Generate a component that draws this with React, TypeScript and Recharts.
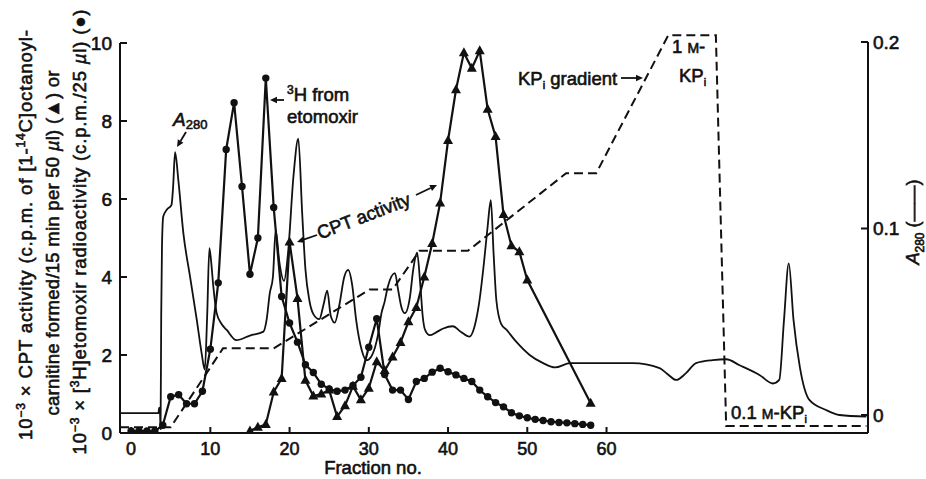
import React from 'react';
import { ComposedChart, Line, XAxis, YAxis, ReferenceLine } from 'recharts';

// ---------- data ----------
const xTicks = [0, 10, 20, 30, 40, 50, 60];
const leftTicks = [0, 2, 4, 6, 8, 10];
const rightTicks = [0, 0.1, 0.2];

// CPT activity (triangles), 10^-3 x c.p.m.
const cptFractions = [15, 16, 17, 18, 19, 20, 21, 22, 23, 24, 25, 26, 27, 28, 29, 30, 31, 32, 33, 34, 35, 36, 37, 38, 39, 40, 41, 42, 43, 44, 45, 46, 47, 48, 49, 50, 58];
const cptValues = [0.05, 0.15, 0.22, 1.05, 1.4, 4.9, 3.45, 1.35, 0.95, 1.0, 1.1, 0.42, 0.7, 1.2, 0.85, 1.15, 1.83, 1.6, 1.95, 2.32, 2.85, 3.22, 4.0, 4.86, 5.9, 7.5, 8.8, 9.75, 9.35, 9.8, 8.3, 7.6, 5.6, 4.8, 4.65, 3.92, 0.76];

// [3H]etomoxir radioactivity (circles), 10^-3 x c.p.m.
const h3Fractions = [0, 1, 2, 3, 4, 5, 6, 7, 8, 9, 10, 11, 12, 13, 14, 15, 16, 17, 18, 19, 20, 21, 22, 23, 24, 25, 26, 27, 28, 29, 30, 31, 32, 33, 34, 35, 36, 37, 38, 39, 40, 41, 42, 43, 44, 45, 46, 47, 48, 49, 50, 51, 52, 53, 54, 55, 56, 57, 58];
const h3Values = [0.05, 0.05, 0.05, 0.05, 0.2, 0.93, 0.98, 0.75, 0.75, 1.07, 2.15, 3.85, 7.27, 8.47, 6.32, 4.07, 5.0, 9.1, 5.78, 3.5, 2.82, 2.33, 1.75, 1.55, 1.25, 1.13, 1.07, 1.1, 1.22, 1.43, 2.2, 2.93, 1.5, 1.1, 1.1, 0.86, 1.32, 1.4, 1.56, 1.66, 1.57, 1.49, 1.4, 1.32, 1.1, 0.93, 0.78, 0.67, 0.52, 0.44, 0.39, 0.35, 0.32, 0.29, 0.27, 0.26, 0.24, 0.22, 0.2];

// A280 trace (right axis)
const a280Fractions = [-1.4, 3.45, 3.55, 3.65, 3.72, 3.8, 3.9, 4.06, 4.5, 5.1, 5.3, 5.55, 5.96, 6.6, 7.44, 8.29, 8.9, 9.3, 9.6, 9.88, 10.1, 10.38, 10.8, 11.4, 12.07, 13.3, 15.0, 16.7, 17.1, 17.5, 17.9, 18.25, 18.7, 19.3, 19.8, 20.5, 21.1, 21.6, 22.0, 22.5, 23.0, 23.75, 24.3, 24.75, 25.2, 25.7, 26.3, 26.9, 27.4, 27.9, 28.4, 29.1, 29.7, 30.3, 31.2, 31.6, 32.0, 32.4, 33.3, 33.7, 34.1, 34.55, 35.2, 35.6, 36.1, 36.5, 36.8, 37.1, 37.7, 38.5, 39.4, 40.6, 41.6, 42.7, 43.3, 43.9, 44.5, 45.0, 45.4, 45.75, 46.1, 46.7, 47.4, 48.6, 50.3, 52.0, 53.5, 55.4, 58.7, 63.3, 66.7, 67.6, 68.8, 70.0, 71.3, 73.4, 75.1, 76.8, 79.3, 81.0, 81.8, 82.4, 83.0, 83.6, 84.4, 85.6, 87.7, 89.4, 92.8];
const a280Values = [0.001, 0.001, 0.004, 0.001, -0.0076, 0.053, 0.091, 0.1064, 0.11, 0.1127, 0.1221, 0.1409, 0.1261, 0.0974, 0.0742, 0.051, 0.0332, 0.0244, 0.0531, 0.0895, 0.0824, 0.0688, 0.0546, 0.0489, 0.0456, 0.0401, 0.0426, 0.0447, 0.051, 0.0652, 0.074, 0.0991, 0.0824, 0.0719, 0.0865, 0.1284, 0.1482, 0.1075, 0.0782, 0.0614, 0.0541, 0.0514, 0.0594, 0.0667, 0.0531, 0.0495, 0.0594, 0.074, 0.0778, 0.0698, 0.051, 0.0349, 0.0294, 0.0313, 0.0439, 0.0546, 0.0608, 0.0688, 0.0761, 0.0671, 0.0581, 0.0546, 0.0635, 0.0778, 0.087, 0.0698, 0.0531, 0.0456, 0.0428, 0.0443, 0.0464, 0.0476, 0.0447, 0.042, 0.0468, 0.0594, 0.0803, 0.1012, 0.1152, 0.0865, 0.0614, 0.0489, 0.0456, 0.0393, 0.0322, 0.0278, 0.0255, 0.0278, 0.0278, 0.0278, 0.0251, 0.0223, 0.0188, 0.0223, 0.0278, 0.0294, 0.0299, 0.0267, 0.0215, 0.0169, 0.0188, 0.051, 0.0813, 0.051, 0.0257, 0.0081, 0.0027, 0.0, -0.0009];

// KPi gradient trace (dashed), drawn against the left scale
const kpiFractions = [-1.4, 5.0, 11.6, 18.0, 30.1, 33.0, 36.4, 42.5, 54.9, 58.7, 67.8, 73.8, 75.1, 92.8];
const kpiValues = [0.15, 0.15, 2.17, 2.17, 3.68, 3.68, 4.67, 4.67, 6.66, 6.66, 10.2, 10.2, 0.18, 0.18];

const zip = (xs: number[], ys: number[]) => xs.map((f, i) => ({ f, v: ys[i] }));
const cptData = zip(cptFractions, cptValues);
const h3Data = zip(h3Fractions, h3Values);
const a280Data = zip(a280Fractions, a280Values);
const kpiData = zip(kpiFractions, kpiValues);

// ---------- layout ----------
const W = 926;
const H = 479;
const PLOT_LEFT = 120;
const PLOT_RIGHT = 868;
const PLOT_TOP = 33;
const PLOT_BOTTOM = 433;
const X_DOMAIN: [number, number] = [-1.4, 93];
const LEFT_DOMAIN: [number, number] = [0, 10.256];
const RIGHT_DOMAIN: [number, number] = [-0.00965, 0.20483];
const FONT = '"Liberation Sans", Arial, Helvetica, sans-serif';
const INK = '#111';
const TXT = { fontFamily: FONT, fill: INK, stroke: INK, strokeWidth: 0.6 } as const;

const XTick = (props: any) => {
  const { x, payload } = props;
  return (
    <g>
      <line x1={x} x2={x} y1={PLOT_BOTTOM} y2={PLOT_BOTTOM - 6} stroke={INK} strokeWidth={2} />
      <text x={x} y={449} dy="0.35em" textAnchor="middle" fontSize={18} {...TXT}>
        {payload.value}
      </text>
    </g>
  );
};

const LeftTick = (props: any) => {
  const { y, payload } = props;
  return (
    <g>
      <line x1={PLOT_LEFT} x2={PLOT_LEFT + 7} y1={y} y2={y} stroke={INK} strokeWidth={2} />
      <text x={112} y={y} dy="0.35em" textAnchor="end" fontSize={19} {...TXT}>
        {payload.value}
      </text>
    </g>
  );
};

const RightTick = (props: any) => {
  const { y, payload } = props;
  return (
    <g>
      <line x1={PLOT_RIGHT} x2={PLOT_RIGHT - 7} y1={y} y2={y} stroke={INK} strokeWidth={2} />
      <text x={873} y={y} dy="0.35em" textAnchor="start" fontSize={19} {...TXT}>
        {payload.value}
      </text>
    </g>
  );
};

const CircleDot = (props: any) => {
  const { cx, cy, index } = props;
  if (cx == null || cy == null) return <g key={`c${index}`} />;
  return <circle key={`c${index}`} cx={cx} cy={cy} r={3.7} fill={INK} stroke="none" />;
};

const TriangleDot = (props: any) => {
  const { cx, cy, index } = props;
  if (cx == null || cy == null) return <g key={`t${index}`} />;
  const d = `M${cx},${cy - 5.5} L${cx + 5},${cy + 3.5} L${cx - 5},${cy + 3.5} Z`;
  return <path key={`t${index}`} d={d} fill={INK} stroke="none" />;
};

const Arrow = ({ x1, y1, x2, y2 }: { x1: number; y1: number; x2: number; y2: number }) => {
  const ang = Math.atan2(y2 - y1, x2 - x1);
  const L = 7;
  const w = 3.2;
  const bx = x2 - L * Math.cos(ang);
  const by = y2 - L * Math.sin(ang);
  const px = -Math.sin(ang) * w;
  const py = Math.cos(ang) * w;
  return (
    <g>
      <line x1={x1} y1={y1} x2={bx} y2={by} stroke={INK} strokeWidth={1.8} />
      <path d={`M${x2},${y2} L${bx + px},${by + py} L${bx - px},${by - py} Z`} fill={INK} />
    </g>
  );
};

const Sup = ({ children, size = 12 }: { children: React.ReactNode; size?: number }) => (
  <tspan fontSize={size} dy={-7}>{children}</tspan>
);

const Overlay = () => (
  <svg
    width={W}
    height={H}
    style={{ position: 'absolute', left: 0, top: 0, pointerEvents: 'none' }}
  >
    <g {...TXT}>
      {/* left axis title, three lines */}
      <g transform="translate(26,235) rotate(-90)">
        <text x={0} y={0} dy="0.35em" textAnchor="middle" fontSize={18.5} textLength={410} lengthAdjust="spacing">
          10<Sup>−3</Sup><tspan dy={7}> × CPT activity (c.p.m. of [1-</tspan><Sup>14</Sup><tspan dy={7}>C]octanoyl-</tspan>
        </text>
      </g>
      <g transform="translate(53,243) rotate(-90)">
        <text x={0} y={0} dy="0.35em" textAnchor="middle" fontSize={18.5} textLength={345} lengthAdjust="spacing">
          carnitine formed/15 min per 50 <tspan fontStyle="italic">µ</tspan>l) (▲) or
        </text>
      </g>
      <g transform="translate(80,232) rotate(-90)">
        <text x={0} y={0} dy="0.35em" textAnchor="middle" fontSize={18.5} textLength={445} lengthAdjust="spacing">
          10<Sup>−3</Sup><tspan dy={7}> × [</tspan><Sup>3</Sup><tspan dy={7}>H]etomoxir radioactivity (c.p.m./25 </tspan><tspan fontStyle="italic">µ</tspan>l) (●)
        </text>
      </g>

      {/* right axis title */}
      <g transform="translate(913,222) rotate(-90)">
        <text x={0} y={0} dy="0.35em" textAnchor="middle" fontSize={18}>
          <tspan fontStyle="italic">A</tspan><tspan fontSize={12} dy={5}>280</tspan><tspan dy={-5}> (——)</tspan>
        </text>
      </g>

      {/* x axis title */}
      <text x={373} y={468} dy="0.35em" textAnchor="middle" fontSize={18.5}>Fraction no.</text>

      {/* A280 annotation */}
      <text x={173} y={126} fontSize={19}>
        <tspan fontStyle="italic">A</tspan><tspan fontSize={13} dy={3}>280</tspan>
      </text>

      {/* 3H from etomoxir */}
      <text x={287} y={101} fontSize={18.5}>
        <tspan fontSize={12} dy={-7}>3</tspan><tspan dy={7}>H from</tspan>
      </text>
      <text x={287} y={123} fontSize={18.5}>etomoxir</text>

      {/* CPT activity */}
      <text transform="translate(366,222) rotate(-21)" x={0} y={0} textAnchor="middle" fontSize={18.5}>CPT activity</text>

      {/* KPi gradient */}
      <text x={518} y={85} fontSize={18.5}>
        KP<tspan fontSize={11} dy={4}>i</tspan><tspan dy={-4}> gradient</tspan>
      </text>

      {/* 1 M-KPi */}
      <text x={672} y={53} fontSize={18.5}>
        1 <tspan fontSize={14}>M</tspan>-
      </text>
      <text x={679} y={82} fontSize={18.5}>
        KP<tspan fontSize={11} dy={4}>i</tspan>
      </text>

      {/* 0.1 M-KPi */}
      <text x={731} y={419} fontSize={18.5}>
        0.1 <tspan fontSize={14}>M</tspan>-KP<tspan fontSize={11} dy={4}>i</tspan>
      </text>
    </g>

    <Arrow x1={186} y1={132} x2={177} y2={147} />
    <Arrow x1={284} y1={100} x2={270} y2={100} />
    <Arrow x1={317} y1={235} x2={297} y2={242} />
    <Arrow x1={416} y1={195} x2={437} y2={185} />
    <Arrow x1={621} y1={78} x2={643} y2={78} />
  </svg>
);

export default function App() {
  return (
    <div style={{ position: 'absolute', left: 0, top: 0, width: W, height: H, background: '#fff' }}>
      <ComposedChart
        width={W}
        height={H}
        margin={{ top: PLOT_TOP, right: W - PLOT_RIGHT - 50, bottom: H - PLOT_BOTTOM - 30, left: PLOT_LEFT - 40 }}
      >
        <XAxis
          dataKey="f"
          type="number"
          domain={X_DOMAIN}
          ticks={xTicks}
          allowDataOverflow
          height={30}
          tickLine={false}
          axisLine={{ stroke: INK, strokeWidth: 2 }}
          tick={<XTick />}
        />
        <YAxis
          yAxisId="left"
          type="number"
          domain={LEFT_DOMAIN}
          ticks={leftTicks}
          allowDataOverflow
          width={40}
          tickLine={false}
          axisLine={false}
          tick={<LeftTick />}
        />
        <YAxis
          yAxisId="right"
          orientation="right"
          type="number"
          domain={RIGHT_DOMAIN}
          ticks={rightTicks}
          allowDataOverflow
          width={50}
          tickLine={false}
          axisLine={false}
          tick={<RightTick />}
        />
        <ReferenceLine
          yAxisId="left"
          segment={[{ x: X_DOMAIN[0], y: 0 }, { x: X_DOMAIN[0], y: 10 }]}
          stroke={INK}
          strokeWidth={2}
          ifOverflow="visible"
        />
        <ReferenceLine
          yAxisId="right"
          segment={[{ x: X_DOMAIN[1], y: RIGHT_DOMAIN[0] }, { x: X_DOMAIN[1], y: 0.2 }]}
          stroke={INK}
          strokeWidth={2}
          ifOverflow="visible"
        />
        <Line
          yAxisId="right"
          data={a280Data}
          dataKey="v"
          type="monotone"
          stroke={INK}
          strokeWidth={1.8}
          dot={false}
          isAnimationActive={false}
        />
        <Line
          yAxisId="left"
          data={kpiData}
          dataKey="v"
          type="linear"
          stroke={INK}
          strokeWidth={2}
          strokeDasharray="9 5"
          dot={false}
          isAnimationActive={false}
        />
        <Line
          yAxisId="left"
          data={h3Data}
          dataKey="v"
          type="linear"
          stroke={INK}
          strokeWidth={2.2}
          dot={(p: any) => <CircleDot {...p} key={`c${p.index}`} />}
          isAnimationActive={false}
        />
        <Line
          yAxisId="left"
          data={cptData}
          dataKey="v"
          type="linear"
          stroke={INK}
          strokeWidth={2.2}
          dot={(p: any) => <TriangleDot {...p} key={`t${p.index}`} />}
          isAnimationActive={false}
        />
      </ComposedChart>
      <Overlay />
    </div>
  );
}
